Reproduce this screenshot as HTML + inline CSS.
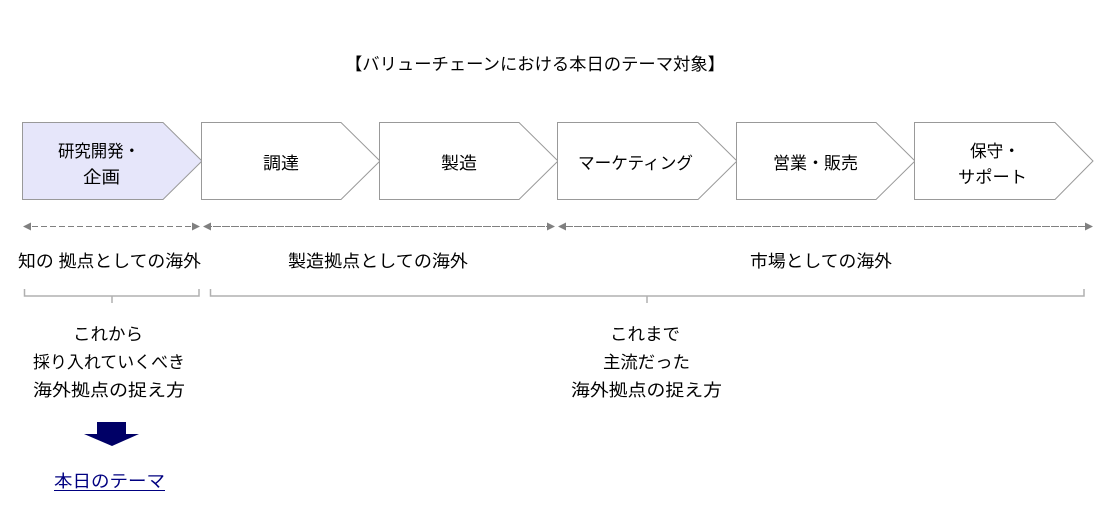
<!DOCTYPE html>
<html><head><meta charset="utf-8"><style>
html,body{margin:0;padding:0;background:#fff;}
svg{display:block;}
text{font-family:"Liberation Sans","Noto Sans CJK JP",sans-serif;fill:#000;font-size:17px;}
</style></head><body>
<svg width="1118" height="510" viewBox="0 0 1118 510" xmlns="http://www.w3.org/2000/svg">
<defs>
<marker id="ah" markerWidth="8" markerHeight="8" refX="7" refY="4" orient="auto" markerUnits="userSpaceOnUse"><path d="M0,0 L8,4 L0,8 z" fill="#808080"/></marker>
</defs>
<text x="345" y="70" textLength="380" lengthAdjust="spacingAndGlyphs">【バリューチェーンにおける本日のテーマ対象】</text>

<g stroke="#999" stroke-width="1">
<path d="M22.5,122.5 H163 L202,161 L163,199.5 H22.5 Z" fill="#e6e6fa"/>
<path d="M201.5,122.5 H341 L380,161 L341,199.5 H201.5 Z" fill="#fff"/>
<path d="M379.5,122.5 H519 L558,161 L519,199.5 H379.5 Z" fill="#fff"/>
<path d="M557.5,122.5 H698 L737,161 L698,199.5 H557.5 Z" fill="#fff"/>
<path d="M736.5,122.5 H876 L915,161 L876,199.5 H736.5 Z" fill="#fff"/>
<path d="M914.5,122.5 H1055 L1093,161 L1055,199.5 H914.5 Z" fill="#fff"/>
</g>
<text x="58" y="157" textLength="82" lengthAdjust="spacingAndGlyphs">研究開発・</text>
<text x="83" y="183" textLength="37" lengthAdjust="spacingAndGlyphs">企画</text>
<text x="263" y="169" textLength="36" lengthAdjust="spacingAndGlyphs">調達</text>
<text x="441" y="169" textLength="36" lengthAdjust="spacingAndGlyphs">製造</text>
<text x="578" y="169" textLength="115" lengthAdjust="spacingAndGlyphs">マーケティング</text>
<text x="773" y="169" textLength="85" lengthAdjust="spacingAndGlyphs">営業・販売</text>
<text x="970" y="157" textLength="50" lengthAdjust="spacingAndGlyphs">保守・</text>
<text x="958" y="183" textLength="69" lengthAdjust="spacingAndGlyphs">サポート</text>

<g stroke="#808080" stroke-width="1" stroke-dasharray="5,4" fill="none">
<line x1="199" y1="226.5" x2="24" y2="226.5" marker-end="url(#ah)"/>
<line x1="24" y1="226.5" x2="199" y2="226.5" marker-end="url(#ah)"/>
<line x1="554" y1="226.5" x2="204" y2="226.5" marker-end="url(#ah)"/>
<line x1="204" y1="226.5" x2="554" y2="226.5" marker-end="url(#ah)"/>
<line x1="1092" y1="226.5" x2="559" y2="226.5" marker-end="url(#ah)"/>
<line x1="559" y1="226.5" x2="1092" y2="226.5" marker-end="url(#ah)"/>
</g>

<text x="18" y="267" textLength="183" lengthAdjust="spacingAndGlyphs">知の 拠点としての海外</text>
<text x="288" y="267" textLength="180" lengthAdjust="spacingAndGlyphs">製造拠点としての海外</text>
<text x="750" y="267" textLength="142" lengthAdjust="spacingAndGlyphs">市場としての海外</text>

<g stroke="#b0b0b0" stroke-width="1.5" fill="none">
<path d="M24.5,289 V296 H199 V289"/>
<line x1="112" y1="296" x2="112" y2="303"/>
<path d="M210.5,289 V296 H1084 V289"/>
<line x1="647" y1="296" x2="647" y2="303"/>
</g>

<text x="73" y="340" textLength="70" lengthAdjust="spacingAndGlyphs">これから</text>
<text x="33" y="368" textLength="152" lengthAdjust="spacingAndGlyphs">採り入れていくべき</text>
<text x="33" y="396" textLength="152" lengthAdjust="spacingAndGlyphs">海外拠点の捉え方</text>
<text x="610" y="340" textLength="70" lengthAdjust="spacingAndGlyphs">これまで</text>
<text x="603" y="368" textLength="87" lengthAdjust="spacingAndGlyphs">主流だった</text>
<text x="571" y="396" textLength="151" lengthAdjust="spacingAndGlyphs">海外拠点の捉え方</text>

<path d="M97,422 H126 V434 H139 L112,446 L84,434 H97 Z" fill="#000066"/>
<text x="54" y="487" style="fill:#000080" textLength="111" lengthAdjust="spacingAndGlyphs">本日のテーマ</text>
<line x1="54" y1="490.5" x2="165" y2="490.5" stroke="#000080" stroke-width="1"/>
</svg>
</body></html>
